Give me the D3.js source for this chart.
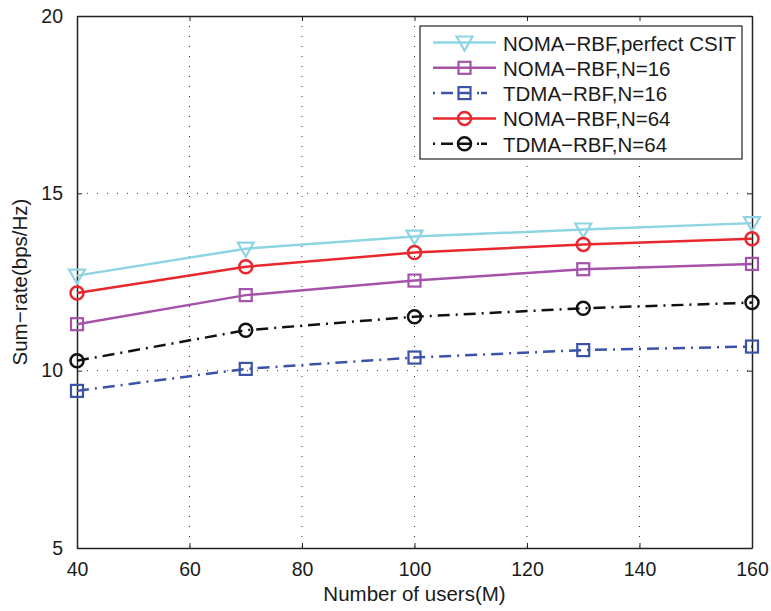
<!DOCTYPE html>
<html>
<head>
<meta charset="utf-8">
<script src="https://cdn.jsdelivr.net/npm/d3@7"></script>
<style>
body { margin: 0; background: #fff; }
text { font-family: "Liberation Sans", Arial, sans-serif; fill: #1a1a1a; }
</style>
</head>
<body>
<div id="chart"></div>
<script>
// data
var users = [40, 70, 100, 130, 160];
var nomaPerfect = [12.68, 13.44, 13.78, 13.98, 14.16];
var nomaN16 = [11.31, 12.13, 12.54, 12.86, 13.01];
var tdmaN16 = [9.43, 10.05, 10.37, 10.58, 10.68];
var nomaN64 = [12.19, 12.93, 13.33, 13.56, 13.72];
var tdmaN64 = [10.28, 11.14, 11.52, 11.76, 11.92];
var xTicks = [40, 60, 80, 100, 120, 140, 160];
var yTicks = [5, 10, 15, 20];
var seriesNames = ["NOMA\u2212RBF,perfect CSIT", "NOMA\u2212RBF,N=16", "TDMA\u2212RBF,N=16", "NOMA\u2212RBF,N=64", "TDMA\u2212RBF,N=64"];

var series = [
	{name: seriesNames[0], values: nomaPerfect, color: "#8ed4e2", dash: null, marker: "tri"},
	{name: seriesNames[1], values: nomaN16, color: "#a552aa", dash: null, marker: "sq"},
	{name: seriesNames[2], values: tdmaN16, color: "#3a52a8", dash: "12,6,2,6", marker: "sq"},
	{name: seriesNames[3], values: nomaN64, color: "#e8282c", dash: null, marker: "circ"},
	{name: seriesNames[4], values: tdmaN64, color: "#111111", dash: "12,6,2,6", marker: "circ"}
];

var svgWidth = 771;
var svgHeight = 611;
var margin = {top: 16, right: 19, bottom: 63, left: 77};
var width = svgWidth - margin.left - margin.right;
var height = svgHeight - margin.top - margin.bottom;

var svg = d3.select("#chart").append("svg")
	.attr("width", svgWidth)
	.attr("height", svgHeight);

var g = svg.append("g")
	.attr("transform", `translate(${margin.left}, ${margin.top})`);

var x = d3.scaleLinear().domain([40, 160]).range([0, width]);
var y = d3.scaleLinear().domain([5, 20]).range([height, 0]);

// grid
g.selectAll(".vgrid").data(xTicks.slice(1, -1)).enter().append("line")
	.attr("x1", d => x(d)).attr("x2", d => x(d))
	.attr("y1", 0).attr("y2", height)
	.attr("stroke", "#333").attr("stroke-width", 1)
	.attr("stroke-dasharray", "1,9");
g.selectAll(".hgrid").data(yTicks.slice(1, -1)).enter().append("line")
	.attr("x1", 0).attr("x2", width)
	.attr("y1", d => y(d)).attr("y2", d => y(d))
	.attr("stroke", "#333").attr("stroke-width", 1)
	.attr("stroke-dasharray", "1,9");

// axes with inward ticks
var bottomAxis = d3.axisBottom(x).tickValues(xTicks).tickSizeInner(-5).tickSizeOuter(0).tickPadding(14);
var topAxis = d3.axisTop(x).tickValues(xTicks).tickSizeInner(-5).tickSizeOuter(0).tickFormat("");
var leftAxis = d3.axisLeft(y).tickValues(yTicks).tickSizeInner(-5).tickSizeOuter(0).tickPadding(14);
var rightAxis = d3.axisRight(y).tickValues(yTicks).tickSizeInner(-5).tickSizeOuter(0).tickFormat("");

function styleAxis(sel) {
	sel.select(".domain").attr("stroke", "#222").attr("stroke-width", 1.5);
	sel.selectAll(".tick line").attr("stroke", "#222");
	sel.selectAll("text").style("font-size", "19.5px").attr("fill", "#1a1a1a");
}

g.append("g").attr("transform", `translate(0, ${height})`).call(bottomAxis).call(styleAxis);
g.append("g").call(topAxis).call(styleAxis);
g.append("g").call(leftAxis).call(styleAxis);
g.append("g").attr("transform", `translate(${width}, 0)`).call(rightAxis).call(styleAxis);

// lines
var line = d3.line().x((d, i) => x(users[i])).y(d => y(d));

function drawMarker(sel, type, color) {
	if (type == "tri") {
		sel.append("path")
			.attr("d", "M-8,-6 L8,-6 L0,8 Z")
			.attr("fill", "none").attr("stroke", color).attr("stroke-width", 2.2);
	} else if (type == "sq") {
		sel.append("rect")
			.attr("x", -6).attr("y", -6).attr("width", 12).attr("height", 12)
			.attr("fill", "none").attr("stroke", color).attr("stroke-width", 2.2);
	} else {
		sel.append("circle").attr("r", 6.5)
			.attr("fill", "none").attr("stroke", color).attr("stroke-width", 2.5);
	}
}

series.forEach(function(s) {
	g.append("path")
		.datum(s.values)
		.attr("d", line)
		.attr("fill", "none")
		.attr("stroke", s.color)
		.attr("stroke-width", 2.5)
		.attr("stroke-dasharray", s.dash);
	s.values.forEach(function(v, i) {
		var m = g.append("g").attr("transform", `translate(${x(users[i])}, ${y(v)})`);
		drawMarker(m, s.marker, s.color);
	});
});

// legend
var legend = svg.append("g").attr("transform", "translate(420, 26)");
legend.append("rect")
	.attr("width", 322).attr("height", 133)
	.attr("fill", "#fff").attr("stroke", "#222").attr("stroke-width", 1.2);

series.forEach(function(s, i) {
	var row = legend.append("g").attr("transform", `translate(0, ${16.5 + i * 25.3})`);
	row.append("line")
		.attr("x1", 13).attr("x2", 76).attr("y1", 0).attr("y2", 0)
		.attr("stroke", s.color).attr("stroke-width", 2.5)
		.attr("stroke-dasharray", s.dash ? "2,6,12,6,12,6,2" : null);
	var m = row.append("g").attr("transform", "translate(44.5, 0)");
	drawMarker(m, s.marker, s.color);
	row.append("text")
		.attr("x", 83).attr("y", 8)
		.style("font-size", "20.5px")
		.text(s.name);
});

// axis labels
svg.append("text")
	.attr("x", margin.left + width / 2).attr("y", 601)
	.attr("text-anchor", "middle")
	.style("font-size", "20.5px")
	.text("Number of users(M)");

svg.append("text")
	.attr("transform", `translate(27, ${margin.top + height / 2}) rotate(-90)`)
	.attr("text-anchor", "middle")
	.style("font-size", "20.5px")
	.text("Sum\u2212rate(bps/Hz)");
</script>
</body>
</html>
